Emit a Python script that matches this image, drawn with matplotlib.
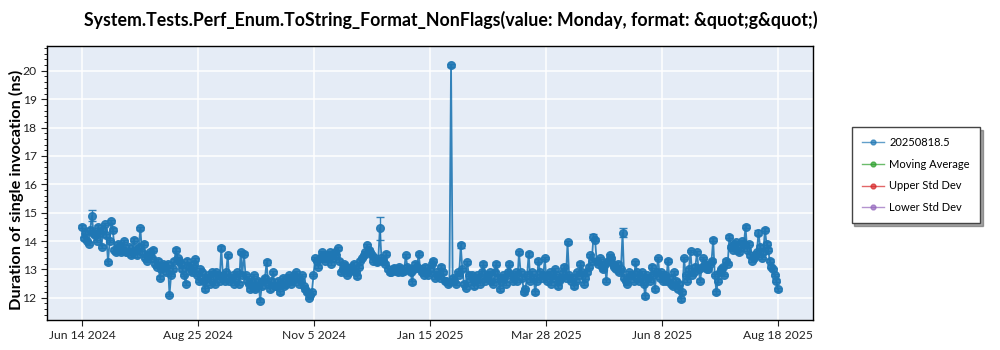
import numpy as np
import pandas as pd
import matplotlib
matplotlib.use("Agg")
import matplotlib.pyplot as plt
from matplotlib.ticker import MultipleLocator

plt.rcParams['font.family'] = ['Lato', 'DejaVu Sans']

# daily measurements from Jun 14 2024 to Aug 18 2025
start_date = "2024-06-14"
end_date = "2025-08-18"
values = [
    14.5, 14.1, 14.3, 14.0, 13.9, 14.4, 14.9, 14.3, 14.2, 14.0, 14.5, 14.3, 13.8, 14.4, 14.6, 14.2, 13.25, 14.0, 14.7, 14.4,
    13.7, 13.6, 13.9, 13.8, 13.6, 13.7, 14.0, 13.6, 13.6, 13.8, 13.5, 13.6, 14.05, 13.7, 13.5, 13.8, 14.45, 13.6, 13.9, 13.4,
    13.3, 13.5, 13.6, 13.4, 13.7, 13.2, 13.1, 13.3, 12.7, 13.0, 13.2, 13.1, 12.9, 13.2, 12.1, 12.8, 13.0, 13.3, 13.7, 13.4,
    13.3, 13.2, 13.0, 12.8, 12.5, 13.3, 13.1, 13.0, 12.9, 13.2, 13.35, 12.8, 12.6, 13.0, 12.9, 12.6, 12.3, 12.7, 12.8, 12.5,
    12.9, 12.7, 12.5, 12.9, 12.8, 12.6, 13.75, 12.8, 12.6, 12.9, 13.5, 12.6, 12.7, 12.8, 12.5, 12.7, 12.9, 12.5, 13.6, 12.8,
    13.55, 12.8, 12.6, 12.5, 12.3, 12.6, 12.8, 12.3, 12.4, 12.6, 11.9, 12.4, 12.6, 12.7, 13.25, 12.5, 12.3, 12.6, 12.9, 12.4,
    12.4, 12.6, 12.2, 12.5, 12.7, 12.4, 12.5, 12.7, 12.8, 12.5, 12.6, 12.8, 12.9, 12.7, 12.5, 12.6, 12.8, 12.4, 12.3, 12.2,
    12.0, 12.1, 12.2, 12.8, 13.4, 13.3, 13.1, 13.4, 13.6, 13.5, 13.3, 13.4, 13.5, 13.6, 13.2, 13.4, 13.6, 13.5, 13.75, 13.3,
    12.9, 13.0, 13.2, 13.1, 12.8, 12.9, 13.1, 13.0, 13.2, 12.9, 12.75, 13.1, 13.3, 13.4, 13.5, 13.6, 13.85, 13.7, 13.6, 13.5,
    13.3, 13.4, 13.25, 13.3, 14.45, 13.4, 13.3, 13.2, 13.55, 13.0, 12.9, 12.9, 13.0, 13.05, 12.95, 12.9, 13.1, 13.0, 12.9, 12.95,
    13.5, 13.1, 13.0, 12.9, 12.55, 13.0, 13.2, 13.1, 13.55, 13.0, 12.9, 12.8, 13.1, 12.9, 12.8, 13.0, 13.2, 13.3, 12.7, 12.9,
    12.8, 12.7, 13.1, 12.9, 12.6, 12.6, 12.5, 12.55, 20.2, 12.7, 12.6, 12.5, 12.9, 12.8, 13.85, 13.0, 12.5, 12.35, 13.25, 12.8,
    12.6, 12.8, 12.4, 12.6, 12.8, 12.7, 12.5, 12.9, 13.2, 12.6, 12.7, 12.8, 12.9, 12.6, 12.5, 12.9, 13.2, 12.7, 12.3, 12.6,
    12.8, 12.7, 12.5, 12.9, 13.2, 12.8, 12.6, 12.7, 12.9, 12.6, 13.6, 12.9, 12.7, 12.2, 12.3, 12.8, 13.55, 12.6, 12.9, 12.7,
    12.2, 12.6, 13.3, 12.9, 12.7, 12.8, 13.4, 12.6, 12.8, 12.9, 12.5, 12.7, 13.0, 12.8, 12.4, 12.6, 12.7, 12.9, 13.1, 12.7,
    13.95, 12.8, 12.6, 12.7, 12.4, 12.6, 12.9, 12.8, 13.2, 12.9, 12.5, 12.7, 12.9, 13.1, 13.5, 13.3, 14.15, 14.05, 13.3, 13.2,
    13.4, 13.1, 13.0, 13.2, 12.6, 13.3, 13.5, 13.4, 13.2, 13.1, 13.0, 13.2, 12.9, 13.0, 14.3, 12.7, 12.6, 12.5, 12.9, 12.8,
    12.8, 12.6, 13.25, 12.9, 12.6, 12.7, 12.9, 12.5, 12.05, 12.8, 12.7, 12.6, 13.1, 12.8, 12.3, 12.9, 13.4, 12.7, 12.9, 12.6,
    12.8, 12.6, 13.3, 12.7, 12.5, 12.4, 12.9, 12.6, 12.3, 12.5, 11.95, 12.2, 13.4, 12.8, 12.6, 13.0, 13.65, 12.8, 12.9, 13.1,
    13.6, 13.0, 12.6, 13.1, 13.4, 13.2, 13.0, 13.0, 13.2, 13.3, 14.05, 12.8, 12.2, 12.6, 12.9, 13.0, 13.1, 12.8, 13.3, 13.2,
    14.15, 13.8, 13.7, 13.9, 13.95, 13.7, 13.6, 13.8, 14.0, 13.9, 14.5, 13.7, 13.9, 13.5, 13.3, 13.4, 13.5, 13.6, 14.3, 13.8,
    13.4, 13.6, 14.4, 13.9, 13.7, 13.3, 13.1, 13.0, 12.8, 12.6, 12.3,
]
# std dev shown as error bars: small everywhere, wider on a few points
base_err = 0.05
wide_err_idx = [6, 86, 114, 184, 234, 270, 276, 300, 316, 334, 418]
wide_err_val = [0.2, 0.06, 0.08, 0.4, 0.08, 0.06, 0.06, 0.06, 0.1, 0.15, 0.08]

tick_labels = ["Jun 14 2024", "Aug 25 2024", "Nov 5 2024", "Jan 15 2025",
               "Mar 28 2025", "Jun 8 2025", "Aug 18 2025"]
legend_names = ["20250818.5", "Moving Average", "Upper Std Dev", "Lower Std Dev"]
legend_colors = ["#1f77b4", "#2ca02c", "#d62728", "#9467bd"]

dates = pd.date_range(start_date, end_date, periods=len(values))
errors = np.full(len(values), base_err)
errors[wide_err_idx] = wide_err_val

fig = plt.figure(figsize=(10, 3.5), dpi=100)
ax = fig.add_axes([0.047, 0.086, 0.766, 0.783])
ax.set_facecolor("#E5ECF6")

ax.errorbar(dates, values, yerr=errors, fmt='-o', color="#1f77b4",
            markersize=5.5, lw=1.3, elinewidth=1, capsize=3, alpha=0.9, zorder=3)

# legend handles (only the first series carries data)
handles = []
for name, col in zip(legend_names, legend_colors):
    h, = ax.plot([], [], '-o', color=col, label=name, markersize=3.5, lw=1, alpha=0.7)
    handles.append(h)

t0 = pd.Timestamp(start_date)
t1 = pd.Timestamp(end_date)
step = (t1 - t0) / 6
tick_pos = [t0 + step * i for i in range(7)]
ax.set_xticks(tick_pos)
ax.set_xticklabels(tick_labels)
ax.set_xlim(t0 - pd.Timedelta(days=21.7), t1 + pd.Timedelta(days=21.7))

ax.set_ylim(11.22, 20.88)
ax.yaxis.set_major_locator(MultipleLocator(1))
ax.yaxis.set_minor_locator(MultipleLocator(0.2))
ax.grid(True, color="white", lw=1.1, zorder=0)
ax.set_axisbelow(True)

ax.tick_params(axis='both', labelsize=8.7, colors="#222222", length=4)
ax.tick_params(axis='y', which='minor', length=2)
for s in ax.spines.values():
    s.set_color("black")
    s.set_linewidth(1)

fig.text(0.016, 1 - 190 / 350, "Duration of single invocation (ns)", rotation=90,
         ha='center', va='center', fontsize=11.8, fontweight='bold')
fig.text(0.451, 1 - 20 / 350,
         "System.Tests.Perf_Enum.ToString_Format_NonFlags(value: Monday, format: &quot;g&quot;)",
         ha='center', va='center', fontsize=12.8, fontweight='bold')

leg = fig.legend(handles=handles, loc='lower left', bbox_to_anchor=(0.846, 0.347),
                 fontsize=8, frameon=True, fancybox=False, shadow=True,
                 borderpad=0.9, labelspacing=0.95, handlelength=2, handletextpad=0.5)
leg.get_frame().set_edgecolor("#444444")

fig.savefig("out.png", dpi=100)
